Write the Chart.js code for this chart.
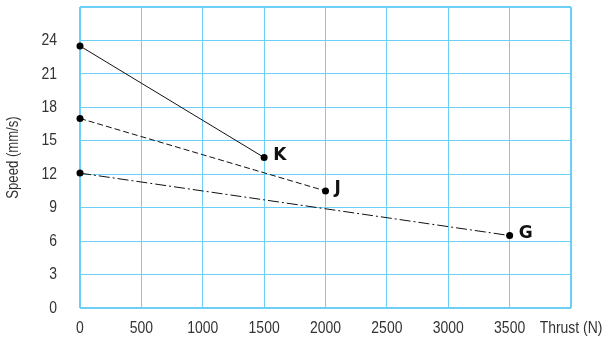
<!DOCTYPE html>
<html>
<head>
<meta charset="utf-8">
<script src="https://cdn.jsdelivr.net/npm/chart.js@4/dist/chart.umd.min.js"></script>
<style>
  html, body { margin: 0; padding: 0; background: #fff; }
  #wrap { width: 606px; height: 343px; }
</style>
</head>
<body>
<div id="wrap"><canvas id="chart"></canvas></div>
<script>
// values
const thrustK = [0, 1500];
const speedK = [23.5, 13.5];
const thrustJ = [0, 2000];
const speedJ = [17.0, 10.5];
const thrustG = [0, 3500];
const speedG = [12.1, 6.5];
const curveNames = ['K', 'J', 'G'];

const xTicks = [0, 500, 1000, 1500, 2000, 2500, 3000, 3500, 4000];
const yTicks = [0, 3, 6, 9, 12, 15, 18, 21, 24, 27];
const xTitle = 'Thrust (N)';
const yTitle = 'Speed (mm/s)';

const FONT = "'Liberation Sans', 'Arial', sans-serif";
const NARROW = 0.82; // squeeze to look like a condensed face
const GRID = '#6dcff6';

const toPoints = (xs, ys) => xs.map((x, i) => ({ x: x, y: ys[i] }));

// condensed text helper
const narrowText = (ctx, text, x, y, align) => {
  ctx.save();
  ctx.translate(x, y);
  ctx.scale(NARROW, 1);
  ctx.textAlign = align;
  ctx.fillText(text, 0, 0);
  ctx.restore();
};

// tick labels + axis title drawn from the scales, condensed
const axisText = {
  id: 'axisText',
  afterDraw(chart) {
    const ctx = chart.ctx;
    const xs = chart.scales.x, ys = chart.scales.y;
    const area = chart.chartArea;
    ctx.save();
    ctx.fillStyle = '#333';
    ctx.font = '17px ' + FONT;
    ctx.textBaseline = 'middle';
    xs.ticks.forEach(t => {
      const label = t.value === 4000 ? xTitle : String(t.value);
      narrowText(ctx, label, xs.getPixelForValue(t.value), area.bottom + 20, 'center');
    });
    ys.ticks.forEach(t => {
      if (t.value === 27) return;
      narrowText(ctx, String(t.value), area.left - 23, ys.getPixelForValue(t.value), 'right');
    });
    ctx.font = '16px ' + FONT;
    ctx.translate(14, (area.top + area.bottom) / 2);
    ctx.rotate(-Math.PI / 2);
    narrowText(ctx, yTitle, 0, 0, 'center');
    ctx.restore();
  }
};

// end-of-curve letters
const endLabels = {
  id: 'endLabels',
  afterDatasetsDraw(chart) {
    const ctx = chart.ctx;
    ctx.save();
    ctx.font = "bold 17px 'DejaVu Sans', sans-serif";
    ctx.fillStyle = '#111';
    ctx.textBaseline = 'middle';
    chart.data.datasets.forEach((ds, i) => {
      const meta = chart.getDatasetMeta(i);
      const last = meta.data[meta.data.length - 1];
      ctx.fillText(curveNames[i], last.x + 9, last.y - 2);
    });
    ctx.restore();
  }
};

const lineSet = (label, data, dash) => ({
  label: label,
  data: data,
  borderColor: '#111',
  borderWidth: 1,
  borderDash: dash,
  pointRadius: 3.5,
  pointBackgroundColor: '#000',
  pointBorderColor: '#000',
  pointBorderWidth: 0,
  clip: false
});

new Chart(document.getElementById('chart'), {
  type: 'line',
  data: {
    datasets: [
      lineSet(curveNames[0], toPoints(thrustK, speedK), []),
      lineSet(curveNames[1], toPoints(thrustJ, speedJ), [6, 3]),
      lineSet(curveNames[2], toPoints(thrustG, speedG), [11, 3, 2, 3])
    ]
  },
  options: {
    responsive: true,
    maintainAspectRatio: false,
    animation: false,
    layout: { padding: { left: 0, top: 7, right: 35, bottom: 0 } },
    plugins: {
      legend: { display: false },
      tooltip: { enabled: false }
    },
    scales: {
      x: {
        type: 'linear',
        min: xTicks[0],
        max: xTicks[xTicks.length - 1],
        afterBuildTicks: scale => { scale.ticks = xTicks.map(v => ({ value: v })); },
        afterFit: scale => { scale.height = 35; },
        grid: {
          color: GRID,
          lineWidth: c => (c.index === 0 || c.index === xTicks.length - 1) ? 2 : 1,
          drawTicks: false
        },
        border: { display: false },
        ticks: { display: false }
      },
      y: {
        type: 'linear',
        min: yTicks[0],
        max: yTicks[yTicks.length - 1],
        afterBuildTicks: scale => { scale.ticks = yTicks.map(v => ({ value: v })); },
        afterFit: scale => { scale.width = 80; },
        grid: {
          color: GRID,
          lineWidth: c => (c.index === 0 || c.index === yTicks.length - 1) ? 2 : 1,
          drawTicks: false
        },
        border: { display: false },
        ticks: { display: false }
      }
    }
  },
  plugins: [endLabels, axisText]
});
</script>
</body>
</html>
